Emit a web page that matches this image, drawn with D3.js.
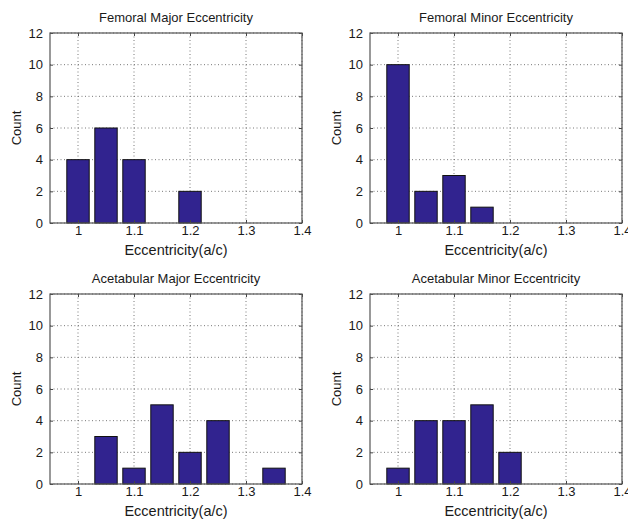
<!DOCTYPE html>
<html>
<head>
<meta charset="utf-8">
<script src="https://cdn.jsdelivr.net/npm/d3@7"></script>
<style>
  body { margin: 0; background: #fff; }
  text { font-family: "Liberation Sans", Arial, sans-serif; fill: #1a1a1a; }
  .grid line { stroke: #555; stroke-dasharray: 1,2.5; stroke-width: 0.8; }
</style>
</head>
<body>
<div class="container"></div>
<script>
// bin centres and counts
var bins = [1.00, 1.05, 1.10, 1.15, 1.20, 1.25, 1.30, 1.35];
var femoralMajor = [4, 6, 4, 0, 2, 0, 0, 0];
var femoralMinor = [10, 2, 3, 1, 0, 0, 0, 0];
var acetabularMajor = [0, 3, 1, 5, 2, 4, 0, 1];
var acetabularMinor = [1, 4, 4, 5, 2, 0, 0, 0];

var titles = ["Femoral Major Eccentricity", "Femoral Minor Eccentricity",
              "Acetabular Major Eccentricity", "Acetabular Minor Eccentricity"];
var xTicks = [1, 1.1, 1.2, 1.3, 1.4];
var yTicks = [0, 2, 4, 6, 8, 10, 12];

var panels = [
  {title: titles[0], counts: femoralMajor, left: 50, top: 33},
  {title: titles[1], counts: femoralMinor, left: 370, top: 33},
  {title: titles[2], counts: acetabularMajor, left: 50, top: 294},
  {title: titles[3], counts: acetabularMinor, left: 370, top: 294}
];

var width = 252, height = 190;
var binWidth = 0.05;

var svg = d3.select(".container")
    .append("svg")
    .attr("width", 628)
    .attr("height", 519);

panels.forEach(function(p) {
  var g = svg.append("g")
      .attr("transform", "translate(" + p.left + "," + p.top + ")");

  var x = d3.scaleLinear().domain([0.95, 1.4]).range([0, width]);
  var y = d3.scaleLinear().domain([0, 12]).range([height, 0]);

  // dotted grid
  var grid = g.append("g").attr("class", "grid");
  grid.selectAll(".gx")
      .data(xTicks)
      .enter().append("line")
      .attr("x1", function(d) { return x(d); })
      .attr("x2", function(d) { return x(d); })
      .attr("y1", 0)
      .attr("y2", height);
  grid.selectAll(".gy")
      .data(yTicks)
      .enter().append("line")
      .attr("x1", 0)
      .attr("x2", width)
      .attr("y1", function(d) { return y(d); })
      .attr("y2", function(d) { return y(d); });

  var data = bins.map(function(b, i) { return {bin: b, count: p.counts[i]}; })
      .filter(function(d) { return d.count > 0; });

  g.selectAll(".bar")
      .data(data)
      .enter().append("rect")
      .attr("x", function(d) { return x(d.bin - binWidth * 0.4); })
      .attr("width", function(d) { return x(d.bin + binWidth * 0.4) - x(d.bin - binWidth * 0.4); })
      .attr("y", function(d) { return y(d.count); })
      .attr("height", function(d) { return y(0) - y(d.count); })
      .attr("fill", "#31238f")
      .attr("stroke", "#111")
      .attr("stroke-width", 1);

  // axes with inward ticks, MATLAB style
  var xAxis = g.append("g")
      .attr("transform", "translate(0," + height + ")")
      .call(d3.axisBottom(x).tickValues(xTicks).tickSize(-3).tickPadding(3)
        .tickFormat(d3.format("")));
  var yAxis = g.append("g")
      .call(d3.axisLeft(y).tickValues(yTicks).tickSize(-3).tickPadding(7));
  g.append("g")
      .call(d3.axisTop(x).tickValues(xTicks).tickSize(-3).tickFormat(""));
  g.append("g")
      .attr("transform", "translate(" + width + ",0)")
      .call(d3.axisRight(y).tickValues(yTicks).tickSize(-3).tickFormat(""));

  g.selectAll(".domain").remove();
  g.selectAll(".tick line").attr("stroke", "#444");
  xAxis.selectAll("text").style("font-size", "13px");
  yAxis.selectAll("text").style("font-size", "13px");

  g.append("rect")
      .attr("width", width)
      .attr("height", height)
      .attr("fill", "none")
      .attr("stroke", "#555")
      .attr("stroke-width", 1.2);

  g.append("text")
      .attr("x", width / 2)
      .attr("y", -11)
      .attr("text-anchor", "middle")
      .style("font-size", "13px")
      .text(p.title);

  g.append("text")
      .attr("x", width / 2)
      .attr("y", height + 32)
      .attr("text-anchor", "middle")
      .style("font-size", "14.5px")
      .text("Eccentricity(a/c)");

  g.append("text")
      .attr("transform", "translate(-29," + (height / 2) + ") rotate(-90)")
      .attr("text-anchor", "middle")
      .style("font-size", "13px")
      .text("Count");
});
</script>
</body>
</html>
